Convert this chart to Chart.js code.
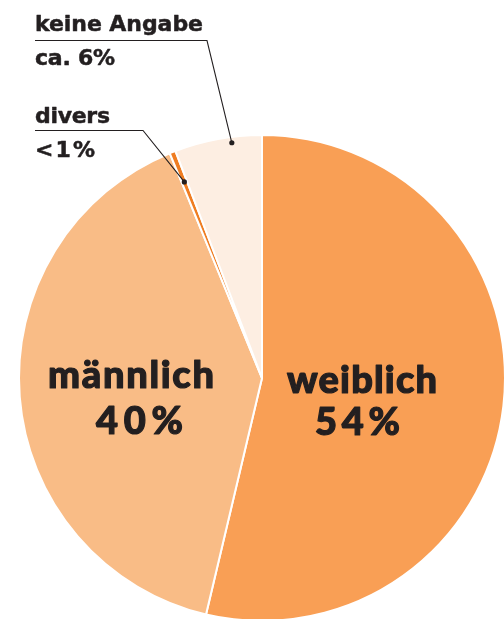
<!DOCTYPE html>
<html><head><meta charset="utf-8">
<script src="https://cdn.jsdelivr.net/npm/chart.js@4"></script>
<style>
html,body{margin:0;padding:0;overflow:hidden;background:#fff;width:504px;height:619px;}
#c{position:absolute;left:0;top:0;}
#lbl{position:absolute;left:0;top:0;}
#lbl text{fill:#231f20;stroke:#231f20;stroke-linejoin:round;}
</style></head><body>
<canvas id="c" width="524" height="756"></canvas>
<svg id="lbl" width="504" height="619" xmlns="http://www.w3.org/2000/svg"></svg>
<script>
// data
const categories = ['weiblich', 'männlich', 'divers', 'keine Angabe'];
const values = [53.7, 40.1, 0.4, 5.8];
const valueLabels = ['54%', '40%', '<1%', 'ca. 6%'];
const colors = ['#F99F55', '#F9BC86', '#EF7D22', '#FDEEE2'];

const bigFont = 'Lato, "DejaVu Sans", sans-serif';
const smallFont = '"DejaVu Sans", sans-serif';
// text layout: [text, x, baselineY, width, fontSize, weight, family, strokeWidth]
const textLayout = [
  [categories[0], 287, 393, 150, 38, 900, bigFont, 1.2],
  [valueLabels[0], 315, 435, 85, 38, 900, bigFont, 1.2],
  [categories[1], 48, 388, 166, 38, 900, bigFont, 1.2],
  [valueLabels[1], 96, 434, 87, 38, 900, bigFont, 1.2],
  [categories[3], 35, 31, 168, 22, 700, smallFont, 0.5],
  [valueLabels[3], 35, 65, 80, 22, 700, smallFont, 0.5],
  [categories[2], 35, 123, 75, 22, 700, smallFont, 0.5],
  [valueLabels[2], 35, 157, 60, 22, 700, smallFont, 0.5]
];
const svg = document.getElementById('lbl');
textLayout.forEach(([t, x, y, w, fs, fw, ff, sw]) => {
  const el = document.createElementNS('http://www.w3.org/2000/svg', 'text');
  el.setAttribute('x', x); el.setAttribute('y', y);
  el.setAttribute('textLength', w); el.setAttribute('lengthAdjust', 'spacing');
  el.setAttribute('font-size', fs); el.setAttribute('font-weight', fw);
  el.setAttribute('font-family', ff);
  el.setAttribute('stroke-width', sw);
  el.textContent = t;
  svg.appendChild(el);
});

// callouts: slice index, fraction along arc, radius fraction, underline x0,x1,y
const callouts = [
  {index: 3, f: 0.65, r: 0.976, x0: 35, x1: 207, y: 40.5},
  {index: 2, f: 0.5, r: 0.868, x0: 35, x1: 143, y: 130.5}
];
const leader = {
  id: 'leader',
  afterDraw(chart) {
    const ctx = chart.ctx;
    const meta = chart.getDatasetMeta(0);
    callouts.forEach(c => {
      const p = meta.data[c.index].getProps(['x','y','startAngle','endAngle','outerRadius'], true);
      const a = p.startAngle + c.f * (p.endAngle - p.startAngle);
      const px = p.x + Math.cos(a) * p.outerRadius * c.r;
      const py = p.y + Math.sin(a) * p.outerRadius * c.r;
      ctx.save();
      ctx.strokeStyle = '#231f20'; ctx.lineWidth = 1.1;
      ctx.beginPath(); ctx.moveTo(c.x0, c.y); ctx.lineTo(c.x1, c.y); ctx.lineTo(px, py); ctx.stroke();
      ctx.beginPath(); ctx.arc(px, py, 2.6, 0, Math.PI * 2);
      ctx.fillStyle = '#231f20'; ctx.fill();
      ctx.restore();
    });
  }
};

new Chart(document.getElementById('c'), {
  type: 'pie',
  data: {
    labels: categories,
    datasets: [{
      data: values,
      backgroundColor: colors,
      borderColor: '#ffffff',
      borderWidth: 2,
      hoverOffset: 0,
      offset: 0
    }]
  },
  options: {
    responsive: false,
    animation: false,
    devicePixelRatio: 1,
    layout: {padding: {left: 18, right: 18, top: 134, bottom: 134}},
    plugins: {legend: {display: false}, tooltip: {enabled: false}}
  },
  plugins: [leader]
});
</script>
</body></html>
